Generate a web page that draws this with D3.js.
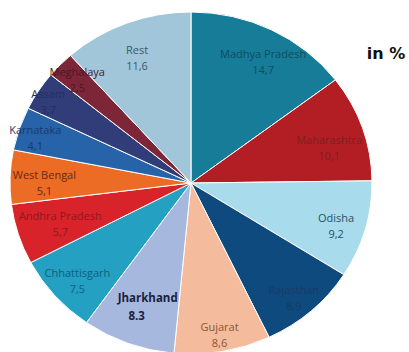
<!DOCTYPE html>
<html>
<head>
<meta charset="utf-8">
<script src="https://cdn.jsdelivr.net/npm/d3@7"></script>
<style>
  body { margin: 0; background: #fff; }
  svg { display: block; }
  .lbl { font-family: "Open Sans", sans-serif; font-size: 11px; text-anchor: middle; }
</style>
</head>
<body>
<svg id="chart"></svg>
<script>
// share of each state, in %, clockwise from 12 o'clock
const states = ["Madhya Pradesh", "Maharashtra", "Odisha", "Rajasthan", "Gujarat", "Jharkhand",
  "Chhattisgarh", "Andhra Pradesh", "West Bengal", "Karnataka", "Assam", "Meghalaya", "Rest"];
const shares = [14.7, 10.1, 9.2, 8.9, 8.6, 8.3, 7.5, 5.7, 5.1, 4.1, 3.7, 2.5, 11.6];
const shareText = ["14,7", "10,1", "9,2", "8,9", "8,6", "8.3", "7,5", "5,7", "5,1", "4,1", "3,7", "2,5", "11,6"];

const sliceColors = ["#177c97", "#b21e24", "#a8dcec", "#0f4a7e", "#f4bb9c", "#a6b8de",
  "#23a0c2", "#d9232a", "#ec6b25", "#2663a9", "#303d79", "#7c2638", "#a1c6da"];
const textColors = ["#0d4d62", "#7e1e22", "#24506a", "#163c66", "#8a5638", "#1b1f3d",
  "#0f5f7a", "#8e1a1e", "#6a2a10", "#1a3a6e", "#252d5c", "#4a1828", "#3a5868"];

const width = 409, height = 352;
const cx = 191, cy = 183;
const R = 181, squash = 171 / 181;   // the original pie is slightly flattened

const svg = d3.select("#chart").attr("width", width).attr("height", height);

const pie = d3.pie().sort(null).value(d => d.v);
const data = states.map((s, i) => ({name: s, v: shares[i], txt: shareText[i], i}));
const arcs = pie(data);

const arc = d3.arc().innerRadius(0).outerRadius(R);

const g = svg.append("g")
  .attr("transform", `translate(${cx},${cy}) scale(1,${squash})`);

g.selectAll("path")
  .data(arcs)
  .enter()
  .append("path")
  .attr("d", arc)
  .attr("fill", d => sliceColors[d.data.i])
  .attr("stroke", "#fff")
  .attr("stroke-width", 1)
  .attr("vector-effect", "non-scaling-stroke");

// label placement: [distance as fraction of radius, angle nudge in degrees]
const labelPos = {"Madhya Pradesh": [0.81, 3], "Maharashtra": [0.79, 4], "Odisha": [0.84, 1.5],
  "Rajasthan": [0.88, 1.4], "Gujarat": [0.9, 0], "Jharkhand": [0.76, -2],
  "Chhattisgarh": [0.85, -1.2], "Andhra Pradesh": [0.76, -0.7], "West Bengal": [0.81, -2],
  "Karnataka": [0.9, -1.5], "Assam": [0.92, -1.6], "Meghalaya": [0.87, 0], "Rest": [0.79, -1.3]};

const labels = svg.append("g");
arcs.forEach(d => {
  const [f, nudge] = labelPos[d.data.name];
  const a = (d.startAngle + d.endAngle) / 2 + nudge * Math.PI / 180;
  const r = R * f;
  const x = cx + r * Math.sin(a);
  const y = cy - r * Math.cos(a) * squash;
  const bold = d.data.name === "Jharkhand";
  const t = labels.append("text")
    .attr("class", "lbl")
    .attr("fill", textColors[d.data.i])
    .style("font-weight", bold ? "700" : "400")
    .style("font-size", bold ? "11.5px" : "11px");
  t.append("tspan").attr("x", x).attr("y", y - 4).text(d.data.name);
  t.append("tspan").attr("x", bold ? x - 11 : x).attr("y", y + (bold ? 14 : 12)).text(d.data.txt);
});

svg.append("text")
  .attr("x", 386)
  .attr("y", 59)
  .attr("text-anchor", "middle")
  .style("font-family", "'DejaVu Sans', sans-serif")
  .style("font-weight", "700")
  .style("font-size", "16px")
  .attr("fill", "#111")
  .text("in %");
</script>
</body>
</html>
